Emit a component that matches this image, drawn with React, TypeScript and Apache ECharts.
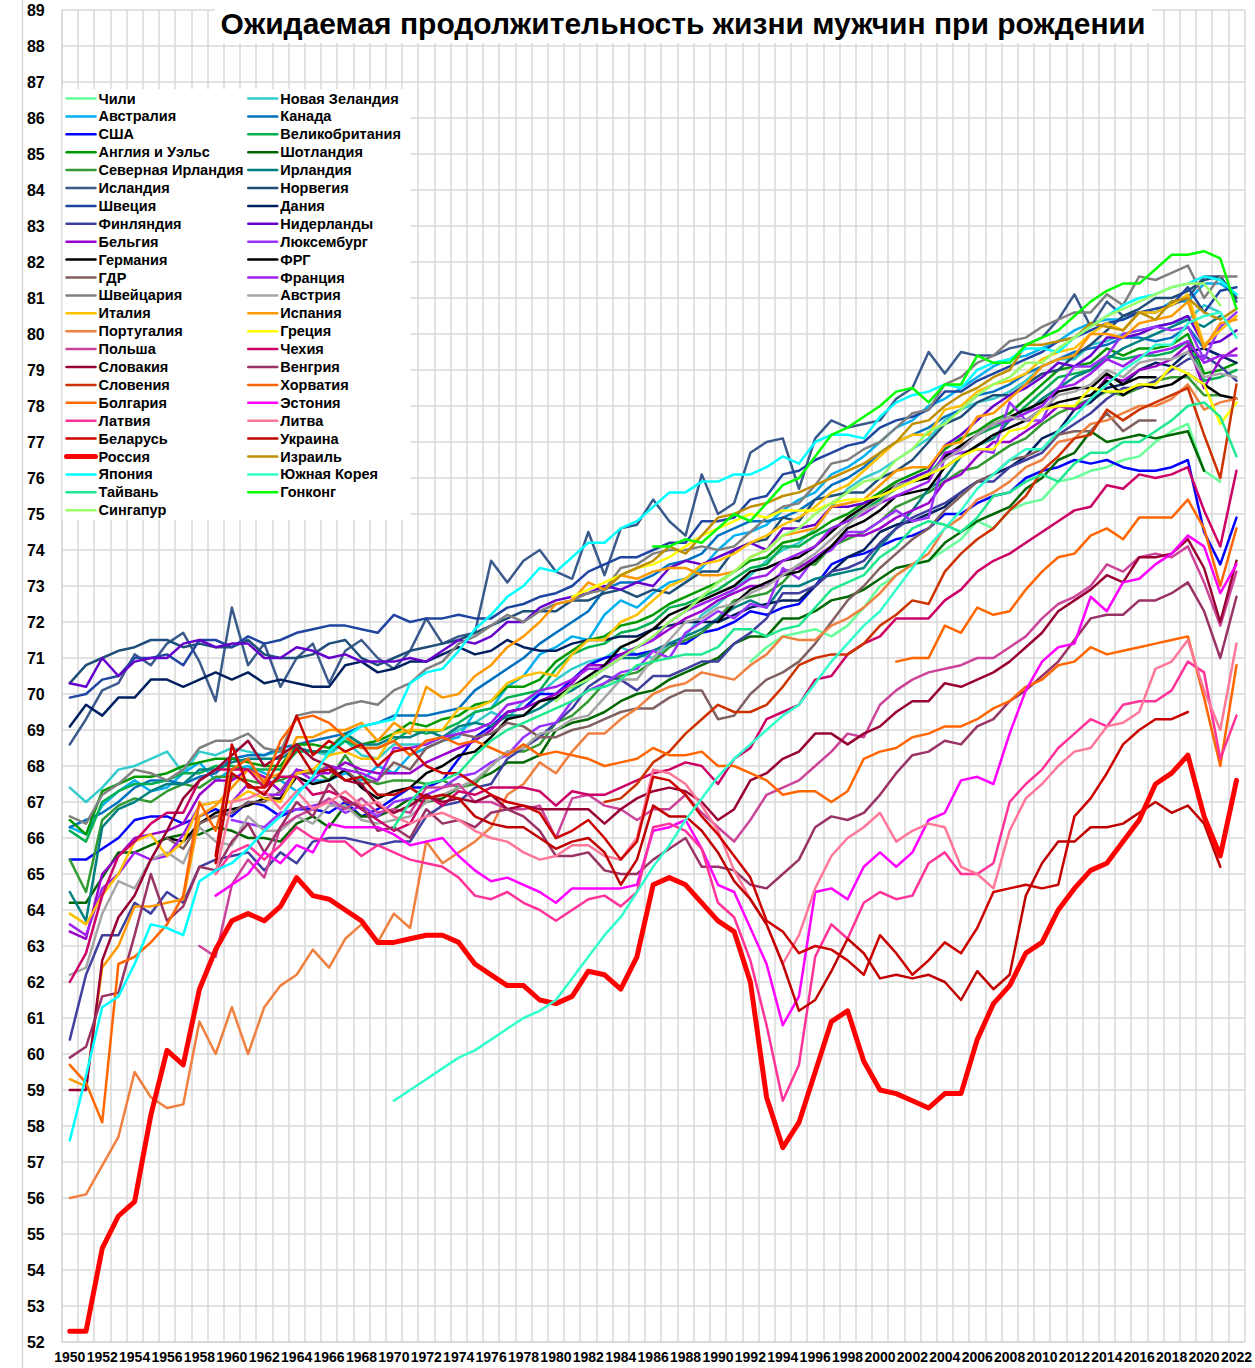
import React, { useEffect, useRef } from 'react';
import * as echarts from 'echarts';

const YEARS = ['1950','1951','1952','1953','1954','1955','1956','1957','1958','1959','1960','1961','1962','1963','1964','1965','1966','1967','1968','1969','1970','1971','1972','1973','1974','1975','1976','1977','1978','1979','1980','1981','1982','1983','1984','1985','1986','1987','1988','1989','1990','1991','1992','1993','1994','1995','1996','1997','1998','1999','2000','2001','2002','2003','2004','2005','2006','2007','2008','2009','2010','2011','2012','2013','2014','2015','2016','2017','2018','2019','2020','2021','2022'];

const Y_MIN = 52;
const Y_MAX = 89;
const TITLE = 'Ожидаемая продолжительность жизни мужчин при рождении';

// values start at the given year
const chile = [70.9,71.3,71.6,71.7,71.8,71.6,71.9,72.4, 73.0,73.3,73.6,73.7,74.0,74.3,74.8,74.6,75.1,75.3, 75.4,75.9,76.0,76.2,76.3,76.5,76.6,77.0,77.3,77.5, 76.2,75.9];
const newZealand = [67.4,67.0,67.4,67.9,68.0,68.2,68.4,67.8,68.4,68.3, 68.5,68.4,68.3,68.4,68.5,68.4,68.3,68.7,68.3,68.2, 68.6,68.6,68.6,68.8,69.0,69.2,69.5,69.3,69.8,70.0, 70.4,70.7,70.9,71.0,71.3,71.1,71.0,71.4,71.6,72.2, 72.5,72.9,73.3,73.7,74.0,74.2,74.6,75.2,75.7,76.0, 76.2,76.5,76.8,77.1,77.6,77.9,78.1,78.2,78.4,78.7, 79.1,79.3,79.3,79.7,79.8,80.0,80.1,80.2,80.3,80.4, 80.8,80.6];
const australia = [66.3,66.1,66.9,67.3,67.6,67.3,67.4,67.8,68.1,67.6, 67.9,68.0,67.8,67.6,67.3,67.6,67.6,67.8,67.6,68.0, 67.8,68.3,68.5,68.7,68.8,69.5,69.6,70.2,70.5,71.1, 71.3,71.6,71.5,72.2,72.6,72.4,72.8,73.1,73.2,73.5, 74.0,74.4,74.5,74.7,75.1,75.4,75.6,76.1,76.3,76.6, 77.0,77.4,77.6,78.0,78.2,78.5,78.8,79.1,79.3,79.4, 79.6,79.8,80.1,80.3,80.4,80.4,80.6,80.6,80.9,80.9, 81.4,81.4,81.1];
const canada = [66.3,66.5,66.7,67.0,67.4,67.6,67.6,67.5,67.7,67.8, 68.2,68.3,68.3,68.5,68.6,68.7,68.8,68.9,69.1,69.2, 69.4,69.4,69.4,69.5,69.6,70.1,70.4,70.7,71.0,71.4, 71.7,72.0,72.3,72.9,73.1,73.1,73.3,73.6,73.7,73.9, 74.4,74.6,74.8,74.8,74.9,75.1,75.4,75.8,76.0,76.3, 76.7,77.0,77.2,77.4,77.7,77.9,78.3,78.4,78.6,78.9, 79.1,79.3,79.5,79.6,79.7,79.9,79.9,79.8,79.9,80.2, 79.6,79.4];
const usa = [65.4,65.4,65.7,66.0,66.5,66.6,66.6,66.4,66.6,66.8, 66.6,67.0,66.9,66.6,66.8,66.8,66.7,67.0,66.6,66.8, 67.1,67.4,67.4,67.6,68.2,68.8,69.1,69.5,69.6,70.0, 70.0,70.4,70.8,71.0,71.1,71.1,71.2,71.4,71.4,71.7, 71.8,72.0,72.3,72.2,72.4,72.5,73.0,73.6,73.8,73.9, 74.1,74.3,74.4,74.6,75.0,75.0,75.3,75.5,75.6,76.0, 76.2,76.3,76.5,76.4,76.5,76.3,76.2,76.2,76.3,76.5, 74.5,73.6,74.9];
const uk = [66.2,65.9,67.0,67.3,67.5,67.5,67.6,67.8,67.8,68.0, 68.0,67.9,67.9,67.9,68.4,68.4,68.4,68.7,68.5,68.5, 68.7,69.0,68.9,69.0,69.2,69.5,69.6,69.9,70.0,70.1, 70.7,71.1,71.3,71.4,71.7,71.8,72.0,72.4,72.5,72.7, 72.9,73.2,73.5,73.6,74.1,74.1,74.4,74.6,74.8,75.1, 75.4,75.7,75.9,76.1,76.6,76.9,77.2,77.4,77.6,78.0, 78.4,78.8,78.9,79.0,79.4,79.3,79.4,79.4,79.5,79.8, 78.7,78.8,79.0];
const englandWales = [66.5,66.1,67.3,67.5,67.7,67.7,67.8,68.0,68.1,68.2, 68.2,68.1,68.0,68.0,68.6,68.6,68.5,68.9,68.6,68.7, 68.9,69.2,69.1,69.3,69.4,69.7,69.8,70.2,70.2,70.4, 70.9,71.2,71.5,71.6,71.9,72.0,72.2,72.5,72.7,72.9, 73.1,73.4,73.7,73.8,74.2,74.3,74.5,74.8,75.0,75.3, 75.6,75.9,76.1,76.3,76.8,77.1,77.3,77.6,77.8,78.2, 78.6,79.0,79.1,79.2,79.6,79.4,79.6,79.6,79.7,80.0, 78.9,79.0,79.2];
const scotland = [64.2,64.2,64.9,65.6,65.6,65.8,66.0,66.1,66.1,66.3, 66.2,66.0,66.0,65.9,66.4,66.6,66.3,66.9,66.6,66.6, 66.8,67.1,67.0,67.1,67.4,67.6,67.8,68.1,68.1,68.3, 69.0,69.2,69.3,69.5,69.8,70.0,70.1,70.4,70.6,70.8, 71.0,71.4,71.6,71.6,72.1,72.1,72.3,72.6,72.7,72.9, 73.2,73.5,73.6,73.7,74.2,74.5,74.8,75.0,75.2,75.7, 76.0,76.5,76.7,77.3,77.0,77.1,77.2,77.1,77.2,77.3, 76.2];
const northernIreland = [65.4,64.5,66.5,66.9,67.1,67.0,67.3,67.5,67.4,67.7, 67.7,67.6,67.5,67.6,67.8,67.9,67.6,68.3,67.7,67.5, 67.6,67.6,67.5,67.6,67.4,67.5,68.0,68.4,68.4,68.6, 69.2,69.4,69.8,70.3,70.5,70.6,70.9,71.3,71.5,71.7, 72.1,72.6,72.7,72.8,73.1,73.6,73.6,74.1,74.3,74.5, 74.8,75.2,75.4,75.6,75.9,76.2,76.3,76.6,76.9,77.1, 77.5,77.8,78.0,78.2,78.4,78.3,78.5,78.7,78.8,78.8, 78.3,78.3];
const ireland = [64.5,63.7,66.3,66.8,67.0,67.3,67.5,67.5,67.9,67.9, 68.1,68.2,68.2,68.2,68.5,68.4,68.4,68.9,68.6,68.6, 68.8,68.8,69.0,68.8,69.1,69.2,69.1,69.4,69.4,69.6, 69.9,70.1,70.4,70.7,71.0,71.0,71.2,71.4,71.6,71.8, 72.1,72.4,72.6,72.4,73.0,73.0,73.2,73.3,73.4,73.5, 74.1,74.6,75.1,75.7,76.0,76.6,76.9,77.1,77.6,77.8, 78.2,78.5,78.8,79.0,79.3,79.6,79.8,80.0,80.2,80.4, 80.2,80.5];
const iceland = [68.6,69.3,70.1,70.3,71.1,70.8,71.4,71.7,70.9,69.8, 72.4,70.8,71.4,70.2,71.0,71.4,70.3,71.2,71.5,71.0, 70.7,71.2,72.1,71.4,71.6,71.7,73.7,73.1,73.7,74.0, 73.4,73.2,74.5,73.3,74.6,74.7,75.4,74.8,74.4,76.1, 75.0,75.3,76.7,77.0,77.1,75.7,77.1,77.6,77.4,77.5, 77.6,78.2,78.5,79.5,78.9,79.5,79.4,79.4,79.6,79.7, 79.9,80.4,81.1,80.2,80.9,80.5,80.6,80.6,80.8,81.0, 81.6,81.6,80.9];
const norway = [70.3,70.8,71.0,71.2,71.3,71.5,71.5,71.3,71.4,71.3, 71.3,71.5,71.1,71.0,71.0,71.1,71.4,71.5,71.0,70.8, 71.0,71.2,71.3,71.4,71.5,71.7,71.9,72.1,72.3,72.3, 72.3,72.6,72.6,72.8,72.9,72.7,72.9,72.8,73.1,73.4, 73.4,74.0,74.2,74.3,74.9,74.8,75.4,75.5,75.6,75.6, 76.0,76.2,76.5,77.0,77.5,77.7,78.1,78.3,78.3,78.6, 78.9,79.0,79.4,79.7,80.1,80.5,80.7,81.0,81.0,81.2, 81.5,81.6,81.0];
const sweden = [69.9,70.0,70.4,70.5,71.0,71.0,71.1,70.8,71.5,71.5, 71.3,71.6,71.4,71.5,71.7,71.8,71.9,71.9,71.8,71.7, 72.2,72.0,72.1,72.1,72.2,72.1,72.1,72.4,72.5,72.7, 72.8,73.0,73.4,73.6,73.8,73.8,74.0,74.2,74.2,74.8, 74.8,74.9,75.4,75.5,76.1,76.2,76.5,76.7,76.9,77.0, 77.4,77.6,77.7,77.9,78.4,78.4,78.7,78.9,79.1,79.3, 79.5,79.8,79.9,80.1,80.3,80.4,80.6,80.7,80.8,81.3, 80.6,81.2,81.3];
const denmark = [69.1,69.7,69.4,69.9,69.9,70.4,70.4,70.2,70.4,70.6, 70.4,70.6,70.3,70.4,70.3,70.2,70.2,70.8,70.9,70.6, 70.7,70.9,70.9,71.1,71.3,71.1,71.2,71.5,71.3,71.2, 71.2,71.4,71.5,71.5,71.6,71.6,71.8,71.9,72.0,72.0, 72.0,72.2,72.4,72.5,72.6,72.6,73.0,73.4,73.8,74.0, 74.5,74.7,74.8,75.0,75.2,75.6,75.9,76.1,76.3,76.6, 77.1,77.3,77.9,78.1,78.5,78.6,79.0,79.2,79.1,79.5, 79.6,79.4,79.2];
const finland = [60.4,62.2,63.3,63.3,64.2,63.9,64.5,64.2,65.2,65.4, 65.5,65.6,65.1,65.6,65.3,65.9,66.0,66.0,65.9,65.8, 65.9,65.9,66.6,66.9,67.0,67.4,67.5,68.2,68.5,68.8, 69.2,69.6,70.2,70.5,70.4,70.1,70.5,70.5,70.7,70.9, 70.9,71.4,71.7,72.1,72.8,72.8,73.0,73.4,73.5,73.7, 74.2,74.6,74.9,75.1,75.3,75.6,75.9,75.9,76.3,76.5, 76.7,77.2,77.5,77.8,78.2,78.5,78.5,78.7,79.0,79.3, 79.4,79.1,78.7];
const netherlands = [70.3,70.2,71.0,70.5,70.9,71.0,71.0,71.4,71.5,71.3, 71.4,71.4,71.0,71.0,71.3,71.2,71.0,71.1,70.9,70.9, 70.9,71.0,70.9,71.2,71.5,71.4,71.6,72.0,72.0,72.4, 72.6,72.7,72.8,73.0,72.9,73.1,73.0,73.5,73.7,73.6, 73.8,74.0,74.2,74.0,74.6,74.6,74.7,75.2,75.2,75.3, 75.5,75.8,76.0,76.2,76.9,77.2,77.6,78.0,78.3,78.5, 78.8,79.2,79.1,79.4,79.9,79.9,80.0,80.2,80.3,80.5, 79.7,79.8,80.1];
const belgium = [63.4,63.2,65.0,65.5,66.0,66.1,66.2,66.4,67.2,67.6, 67.6,67.9,67.7,67.3,67.9,67.8,67.8,68.1,67.9,67.8, 67.8,67.8,68.1,68.3,68.5,68.7,69.0,69.5,69.6,69.8, 70.0,70.3,70.8,70.8,71.1,71.3,71.5,71.8,72.1,72.3, 72.6,72.8,73.0,73.0,73.4,73.5,73.8,74.1,74.4,74.4, 74.6,74.9,75.1,75.3,75.9,76.1,76.6,77.0,77.0,77.3, 77.6,78.0,77.9,78.2,78.8,78.7,79.0,79.1,79.3,79.7, 78.5,79.3,79.6];
const luxembourg = [66.5,66.4,66.3,66.7,66.8,66.9,67.0,66.7,66.9,66.6, 67.0,67.1,67.2,67.4,67.7,67.8,68.1,68.3,68.8,69.1, 69.2,69.8,70.1,70.3,70.6,70.7,71.2,71.0,71.7,72.0, 72.3,72.1,72.5,72.4,73.5,73.2,73.8,74.0,74.5,74.5, 74.8,75.1,74.8,74.9,76.6,76.7,76.8,76.7,78.1,77.6, 77.6,78.5,79.1,79.1,79.4,80.0,80.1,80.2,80.1,80.2, 79.3,80.2,80.6];
const germany = [72.0,72.5,72.9,73.1,73.3,73.4,73.7,74.1,74.6,74.8, 75.1,75.5,75.6,75.7,76.3,76.6,76.9,77.2,77.4,77.6, 77.9,78.1,78.2,78.3,78.7,78.3,78.6,78.5,78.6,78.9, 78.6,78.3,78.2];
const westGermany = [66.0,65.9,66.4,66.7, 66.8,66.9,67.1,67.1,67.7,67.5,67.6,67.9,67.4,67.1, 67.3,67.4,67.8,68.0,68.3,68.4,68.8,69.3,69.4,69.8, 69.9,70.2,70.5,70.8,71.3,71.5,71.8,72.2,72.4,72.6, 72.8,73.0,73.4,73.5,73.7,73.8,74.1,74.5,74.9,75.2, 75.5,75.8,75.9,76.0,76.6,76.9,77.2,77.5,77.7,77.9, 78.1,78.4,78.5,78.5,78.9,78.6,78.8,78.8];
const eastGermany = [66.0,65.7,66.4,66.6, 66.7,67.0,67.0,67.3,67.8,67.8,68.0,67.9,67.5,67.6, 68.1,67.9,68.5,68.7,68.9,68.8,68.9,69.2,69.1,68.8, 68.8,69.0,69.1,69.3,69.5,69.6,69.6,69.9,70.1,70.1, 69.3,69.4,70.0,70.4,70.6,70.9,71.4,72.0,72.6,73.0, 73.5,73.9,74.3,74.6,75.1,75.5,75.9,76.1,76.5,76.6, 76.8,77.2,77.3,77.3,77.8,77.3,77.6,77.6];
const france = [63.6,63.3,64.6,65.0,65.6,65.4,65.5,66.1,66.9,67.0, 67.0,67.5,67.2,67.2,67.9,67.6,68.0,67.9,67.8,67.6, 68.5,68.5,68.6,68.8,68.9,69.0,69.2,69.7,69.8,70.1, 70.2,70.4,70.7,70.7,71.0,71.3,71.5,72.0,72.3,72.5, 72.7,72.9,73.2,73.3,73.7,73.9,74.1,74.6,74.8,75.0, 75.3,75.5,75.7,75.9,76.7,76.8,77.2,77.5,77.6,77.8, 78.0,78.5,78.6,78.9,79.3,79.1,79.4,79.5,79.6,79.8, 79.2,79.4,79.4];
const switzerland = [66.6,66.4,67.2,67.5,67.9,67.8,67.6,67.9,68.5,68.7, 68.7,68.9,68.5,68.4,69.4,69.5,69.5,69.7,69.8,69.7, 70.1,70.3,70.7,70.9,71.4,71.6,71.9,72.2,72.0,72.3, 72.5,72.6,72.8,72.9,73.5,73.6,73.9,74.0,74.0,74.1, 74.0,74.1,74.5,74.9,75.2,75.3,75.8,76.4,76.5,76.8, 77.0,77.4,77.8,77.9,78.6,78.8,79.2,79.4,79.8,79.9, 80.2,80.4,80.6,80.6,81.1,80.8,81.6,81.5,81.7,81.9, 81.0,81.6,81.6];
const austria = [62.2,62.4,63.9,64.8,64.6,65.4,65.6,65.3,66.3,65.9, 65.8,66.6,66.2,66.2,66.6,66.4,66.9,66.9,66.5,66.4, 66.5,66.6,67.0,67.2,67.4,67.6,68.0,68.4,68.5,68.9, 69.0,69.3,69.4,69.9,70.4,70.4,71.0,71.5,72.0,72.1, 72.4,72.5,72.8,73.0,73.3,73.6,73.9,74.3,74.7,75.1, 75.3,75.8,75.9,76.1,76.5,76.8,77.2,77.5,77.7,77.6, 77.9,78.3,78.4,78.6,79.0,78.8,79.2,79.3,79.3,79.5, 78.8,78.9,78.8];
const italy = [63.9,63.6,64.4,65.0,65.9,66.1,65.5,65.9,66.9,67.0, 67.0,67.3,67.1,67.0,67.8,67.9,68.3,68.4,68.2,68.2, 68.9,69.0,69.0,69.0,69.6,69.6,69.8,70.3,70.5,70.6, 70.5,71.1,71.5,71.5,72.0,72.2,72.6,73.0,73.2,73.6, 73.7,73.9,74.2,74.4,74.7,74.9,75.2,75.6,75.8,76.2, 76.6,77.0,77.2,77.2,77.9,78.0,78.4,78.6,78.7,78.9, 79.3,79.5,79.6,80.0,80.3,80.1,80.6,80.6,80.8,81.1, 79.7,80.1,80.5];
const spain = [59.3,59.1,62.4,63.0,64.1,64.1,64.2,64.3,66.6,66.9, 67.4,67.9,67.6,67.8,68.8,68.8,69.0,69.0,69.2,68.7, 69.2,68.9,70.2,69.9,70.0,70.5,70.8,71.3,71.6,72.0, 72.5,72.6,73.1,72.9,73.3,73.2,73.4,73.5,73.5,73.3, 73.3,73.4,73.8,74.0,74.4,74.5,74.6,75.2,75.3,75.4, 75.8,76.2,76.3,76.3,76.9,77.0,77.7,77.8,78.2,78.6, 79.1,79.3,79.4,80.0,80.0,79.9,80.3,80.4,80.5,80.9, 79.6,80.3,80.4];
const portugal = [56.0,56.1,56.9,57.7,59.5,58.8,58.5,58.6,60.9,60.0, 61.3,60.0,61.3,61.9,62.2,62.9,62.4,63.2,63.6,63.1, 63.9,63.5,65.9,65.3,65.6,65.9,66.3,67.2,67.5,68.1, 67.8,68.4,68.9,68.9,69.3,69.6,70.0,70.2,70.3,70.6, 70.5,70.4,70.8,71.1,71.6,71.5,71.5,71.9,72.1,72.4, 72.8,73.3,73.6,73.9,74.6,74.9,75.4,75.6,75.9,76.3, 76.5,77.0,77.1,77.5,77.6,77.8,78.0,78.0,78.2,78.6, 77.9,78.1,78.2];
const greece = [72.7,72.9,73.1,73.3,73.5,73.6,73.8,74.1,74.4, 74.6,74.8,75.0,74.9,75.1,75.1,75.1,75.3,75.4,75.4, 75.5,75.7,75.9,76.1,76.3,76.6,76.8,76.8,77.3,77.4, 77.9,78.0,78.0,78.5,78.4,78.4,78.6,78.6,79.1,78.9, 78.6,77.5,78.1];
const poland = [63.0,62.7, 64.7,65.4,64.9,66.3,66.6,66.8,67.1,66.8,67.1,66.7, 66.8,66.7,67.4,67.4,67.5,67.0,67.0,66.8,66.8,66.9, 66.0,67.1,67.2,66.9,66.8,66.5,66.8,66.8,67.2,66.7, 66.3,65.9,66.5,67.2,67.4,67.6,68.0,68.4,68.9,68.8, 69.7,70.1,70.4,70.6,70.7,70.8,71.0,71.0,71.3,71.6, 72.1,72.5,72.7,73.0,73.6,73.4,73.8,73.9,73.8,74.1, 73.1,71.9,73.4];
const czechia = [62.0,62.8,64.4,65.5,65.9,66.4,66.7,66.7,67.6,67.9, 67.9,67.9,67.4,67.7,67.7,67.2,67.3,67.1,66.8,66.5, 66.2,66.4,67.2,66.9,67.3,67.2,67.4,67.4,67.4,67.3, 66.9,67.3,67.2,67.2,67.4,67.6,67.8,67.9,68.1,68.0, 67.5,68.2,68.5,69.3,69.5,69.7,70.4,70.5,71.1,71.4, 71.6,72.1,72.1,72.1,72.6,72.9,73.4,73.7,73.9,74.2, 74.5,74.8,75.1,75.2,75.8,75.7,76.1,76.0,76.1,76.3, 75.1,74.1,76.2];
const slovakia = [59.0,59.0,62.6,63.8,64.4,65.4,66.2,67.1,67.6,67.9, 68.3,68.7,68.0,68.3,68.6,68.2,68.0,67.6,67.5,66.9, 66.7,66.9,67.2,67.0,67.1,67.0,67.2,66.8,66.9,66.8, 66.8,66.8,66.8,66.4,66.8,67.1,67.3,67.4,67.3,67.0, 66.5,66.8,67.6,67.8,68.2,68.4,68.9,68.9,68.6,68.9, 69.1,69.5,69.8,69.8,70.3,70.2,70.4,70.6,70.9,71.3, 71.7,72.3,72.6,72.9,73.3,73.1,73.8,73.8,73.9,74.3, 73.5,72.0,73.7];
const hungary = [59.9,60.2,61.6,61.7,63.3,65.0,63.7,64.1,65.2,65.1, 65.9,66.4,65.6,66.3,67.0,66.6,67.5,67.0,66.9,66.2, 66.3,66.0,66.8,66.4,66.5,66.3,66.7,66.8,66.6,66.2, 65.5,65.5,65.6,65.1,65.0,65.0,65.4,65.7,66.0,65.2, 65.2,65.1,64.7,64.6,65.0,65.4,66.3,66.6,66.5,66.7, 67.2,67.8,68.3,68.4,68.7,68.6,69.1,69.3,69.8,70.1, 70.5,70.9,71.5,72.1,72.2,72.2,72.6,72.6,72.8,73.1, 72.3,71.0,72.7];
const slovenia = [67.0,67.1,67.5,68.1,68.4,68.9,69.3, 69.7,69.5,69.5,69.7,70.2,70.8,71.0,71.1,71.1,71.4, 71.9,72.2,72.6,72.5,73.4,73.9,74.3,74.6,75.1,75.5, 76.2,76.6,77.1,77.2,77.9,77.6,77.9,78.1,78.3,78.5, 77.2,76.0,78.6];
const croatia = [70.9,71.0,71.0,71.9,71.7,72.4,72.2,72.3,72.9, 73.4,73.8,73.9,74.4,74.6,74.3,74.9,74.9,74.9,75.4, 74.6,73.0,74.6];
const bulgaria = [59.7,59.2,58.1,62.5,62.7,63.1,63.6,64.4,67.0,66.2, 67.9,68.2,67.5,68.7,69.3,69.4,69.2,68.8,68.5,68.5, 68.7,68.3,68.7,68.8,68.6,68.7,68.5,68.3,68.6,68.3, 68.4,68.3,68.2,68.0,68.1,68.2,68.5,68.3,68.3,68.4, 68.0,68.0,67.8,67.6,67.2,67.3,67.3,67.0,67.3,68.2, 68.4,68.5,68.8,68.9,69.1,69.1,69.3,69.6,69.8,70.2, 70.4,70.8,70.9,71.3,71.1,71.2,71.3,71.4,71.5,71.6, 69.9,68.0,70.8];
const estonia = [64.4, 64.7,65.0,65.6,65.3,65.8,65.6,66.4,66.3,66.3,66.3, 66.1,65.8,65.9,66.0,65.5,65.1,64.8,64.9,64.7,64.5, 64.2,64.6,64.6,64.6,64.6,64.7,66.2,66.3,66.5,65.7, 64.7,64.5,63.5,62.5,60.8,61.6,64.5,64.6,64.3,65.2, 65.6,65.2,65.6,66.5,66.7,67.6,67.7,67.5,68.9,70.1, 70.9,71.3,71.4,72.7,72.3,73.1,73.2,73.6,73.9,74.4, 74.1,72.8,73.6];
const latvia = [65.0, 65.6,65.8,65.4,65.8,66.3,66.0,65.9,65.9,65.5,65.8, 65.6,65.4,65.3,65.2,64.9,64.4,64.3,64.5,64.2,64.0, 63.7,64.0,64.3,64.4,64.1,64.5,66.3,66.4,66.2,65.7, 64.2,63.8,62.6,60.8,58.7,59.7,62.7,63.6,63.2,64.2, 64.5,64.3,64.4,65.3,65.6,65.0,65.0,65.3,67.0,67.5, 67.9,68.5,68.9,69.3,69.1,69.7,69.8,69.8,70.1,70.9, 70.6,68.2,69.4];
const lithuania = [65.0, 67.0,67.1,67.3,66.8,67.3,66.8,67.0,67.3,66.9,67.0, 66.6,66.4,66.6,66.7,66.5,66.2,66.0,65.9,65.6,65.4, 65.5,65.8,65.8,65.5,65.4,66.0,67.9,67.8,67.5,66.9, 66.2,65.1,64.3,63.6,62.5,63.3,64.6,65.5,66.0,66.3, 66.7,65.9,66.2,66.4,66.3,65.2,65.0,64.6,66.2,67.1, 67.5,68.0,68.4,68.5,69.1,69.2,69.5,70.7,70.9,71.5, 70.1,69.0,71.4];
const belarus = [65.5, 68.6,67.4,67.4,68.2,69.4,68.3,68.7,68.4,68.6,68.0, 68.4,68.5,68.0,67.8,67.8,67.5,67.2,67.0,66.9,66.7, 66.0,66.2,66.5,66.0,65.4,65.9,67.7,67.6,67.2,66.6, 66.1,65.5,64.9,63.7,63.4,62.8,63.0,62.9,62.6,62.2, 63.3,62.8,62.2,62.6,63.1,62.8,63.5,64.5,64.6,64.7, 64.6,64.7,66.6,67.1,67.8,68.6,69.0,69.3,69.3,69.5];
const ukraine = [65.3, 67.8,67.5,67.2,67.8,68.5,67.8,67.9,67.6,67.7,67.2, 67.2,67.4,67.1,67.2,67.1,66.6,66.4,66.3,66.3,66.0, 65.7,65.9,66.0,65.6,64.7,65.4,66.9,66.6,66.6,66.2, 65.6,64.8,64.3,63.6,62.5,61.2,61.5,62.3,63.2,62.8, 62.1,62.2,62.1,62.2,62.0,61.5,62.3,61.8,62.2,64.4, 65.3,65.9,65.9,66.3,66.3,66.4,66.7,67.0,66.7,66.9, 66.4,65.2];
const russia = [52.3,52.3,54.6,55.5,55.9,58.3,60.1,59.7,61.8,62.9, 63.7,63.9,63.7,64.1,64.9,64.4,64.3,64.0,63.7,63.1, 63.1,63.2,63.3,63.3,63.1,62.5,62.2,61.9,61.9,61.5, 61.4,61.6,62.3,62.2,61.8,62.7,64.7,64.9,64.7,64.2, 63.7,63.4,62.0,58.8,57.4,58.1,59.5,60.9,61.2,59.8, 59.0,58.9,58.7,58.5,58.9,58.9,60.4,61.4,61.9,62.8, 63.1,64.0,64.6,65.1,65.3,65.9,66.5,67.5,67.8,68.3, 66.6,65.5,67.6];
const israel = [72.9,73.3,73.5,73.7,74.1,73.9,74.4, 74.9,75.0,75.2,75.3,75.5,75.6,75.8,76.0,76.2,76.4, 76.7,77.0,77.5,77.6,78.0,78.3,78.5,78.8,79.0,79.7, 79.7,79.8,79.9,80.3,80.2,80.1,80.6,80.4,80.9,81.0, 80.6,80.4,80.7];
const japan = [57.6,59.4,61.3,61.6,62.5,63.6,63.5,63.3,64.8,65.1, 65.3,65.7,66.2,66.6,67.2,67.7,68.4,68.8,69.1,69.2, 69.3,70.3,70.6,70.7,71.2,71.8,72.2,72.7,73.0,73.5, 73.4,73.8,74.2,74.2,74.6,74.8,75.2,75.6,75.6,75.9, 75.9,76.1,76.1,76.3,76.6,76.4,77.0,77.2,77.2,77.1, 77.7,78.1,78.3,78.4,78.6,78.5,79.0,79.2,79.3,79.6, 79.6,79.5,79.9,80.2,80.5,80.8,81.0,81.1,81.3,81.4, 81.6,81.5,81.1];
const southKorea = [58.7,59.0,59.3,59.6,59.9,60.1,60.4,60.7,61.0,61.2, 61.5,62.1,62.7,63.3,63.8,64.5,65.2,65.8,66.5,67.1, 67.7,68.2,68.6,69.0,69.4,69.7,70.3,70.9,71.4,71.9, 72.3,72.9,73.5,74.1,74.6,75.1,75.7,76.1,76.5,76.8, 76.8,77.3,77.7,78.2,78.6,79.0,79.3,79.7,79.7,80.3, 80.5,80.6,79.9];
const taiwan = [66.3,67.0,67.5,67.6,67.8,68.3,68.7,69.0,69.2,69.4, 69.6,69.8,70.1,70.2,70.4,70.8,70.9,71.0,71.1,71.1, 71.3,71.8,71.8,71.6,71.8,71.9,72.4,72.9,73.1,73.3, 73.8,74.1,74.6,74.8,74.7,74.5,74.9,75.5,75.6,75.9, 76.1,75.9,76.4,76.7,76.7,77.0,77.0,77.3,77.6,78.0, 78.1,77.7,76.6];
const hongKong = [74.1,74.1,74.3,74.2, 74.6,75.0,74.8,75.3,75.8,76.0,76.6,77.2,77.4,77.7, 78.0,78.4,78.5,78.1,78.6,78.6,79.4,79.2,79.2,79.7, 79.9,80.1,80.5,80.9,81.2,81.4,81.4,81.8,82.2,82.2, 82.3,82.1,80.7];
const singapore = [69.8,70.2,70.4,70.7,71.0,71.3,71.6,72.0,72.3,72.7, 73.1,73.4,73.8,74.0,74.4,74.6,75.0,75.3,75.6,75.9, 76.0,76.5,76.8,77.3,77.5,77.9,78.3,78.6,78.8,79.2, 79.2,79.6,79.9,80.2,80.5,80.7,80.9,81.1,81.3,81.4, 81.4,80.8];

type Def = { name: string; color: string; start: number; values: number[]; width?: number };

const DEFS: Def[] = [
  { name: 'Чили', color: '#66FF99', start: 1992, values: chile },
  { name: 'Новая Зеландия', color: '#33CCCC', start: 1950, values: newZealand },
  { name: 'Австралия', color: '#00B0F0', start: 1950, values: australia },
  { name: 'Канада', color: '#0070C0', start: 1950, values: canada },
  { name: 'США', color: '#0000FF', start: 1950, values: usa },
  { name: 'Великобритания', color: '#00B050', start: 1950, values: uk },
  { name: 'Англия и Уэльс', color: '#009900', start: 1950, values: englandWales },
  { name: 'Шотландия', color: '#006600', start: 1950, values: scotland },
  { name: 'Северная Ирландия', color: '#339933', start: 1950, values: northernIreland },
  { name: 'Ирландия', color: '#008080', start: 1950, values: ireland },
  { name: 'Исландия', color: '#3A5A8C', start: 1950, values: iceland },
  { name: 'Норвегия', color: '#1F4E79', start: 1950, values: norway },
  { name: 'Швеция', color: '#1F45A0', start: 1950, values: sweden },
  { name: 'Дания', color: '#002060', start: 1950, values: denmark },
  { name: 'Финляндия', color: '#3F3FA0', start: 1950, values: finland },
  { name: 'Нидерланды', color: '#6600CC', start: 1950, values: netherlands },
  { name: 'Бельгия', color: '#9900CC', start: 1950, values: belgium },
  { name: 'Люксембург', color: '#9933FF', start: 1960, values: luxembourg },
  { name: 'Германия', color: '#000000', start: 1990, values: germany },
  { name: 'ФРГ', color: '#000000', start: 1956, values: westGermany },
  { name: 'ГДР', color: '#806060', start: 1956, values: eastGermany },
  { name: 'Франция', color: '#A020F0', start: 1950, values: france },
  { name: 'Швейцария', color: '#808080', start: 1950, values: switzerland },
  { name: 'Австрия', color: '#A6A6A6', start: 1950, values: austria },
  { name: 'Италия', color: '#FFC000', start: 1950, values: italy },
  { name: 'Испания', color: '#FF9900', start: 1950, values: spain },
  { name: 'Португалия', color: '#F08040', start: 1950, values: portugal },
  { name: 'Греция', color: '#FFFF00', start: 1981, values: greece },
  { name: 'Польша', color: '#CC4499', start: 1958, values: poland },
  { name: 'Чехия', color: '#CC0066', start: 1950, values: czechia },
  { name: 'Словакия', color: '#990033', start: 1950, values: slovakia },
  { name: 'Венгрия', color: '#993366', start: 1950, values: hungary },
  { name: 'Словения', color: '#CC3300', start: 1983, values: slovenia },
  { name: 'Хорватия', color: '#FF6600', start: 2001, values: croatia },
  { name: 'Болгария', color: '#FF6600', start: 1950, values: bulgaria },
  { name: 'Эстония', color: '#FF00FF', start: 1959, values: estonia },
  { name: 'Латвия', color: '#FF3399', start: 1959, values: latvia },
  { name: 'Литва', color: '#FF7799', start: 1959, values: lithuania },
  { name: 'Беларусь', color: '#CC0000', start: 1959, values: belarus },
  { name: 'Украина', color: '#C00000', start: 1959, values: ukraine },
  { name: 'Россия', color: '#FF0000', start: 1950, values: russia, width: 5 },
  { name: 'Израиль', color: '#BF8F00', start: 1983, values: israel },
  { name: 'Япония', color: '#00FFFF', start: 1950, values: japan },
  { name: 'Южная Корея', color: '#33FFCC', start: 1970, values: southKorea },
  { name: 'Тайвань', color: '#20E890', start: 1970, values: taiwan },
  { name: 'Гонконг', color: '#00FF00', start: 1986, values: hongKong },
  { name: 'Сингапур', color: '#99FF66', start: 1980, values: singapore },
];

const FONT = "'Liberation Sans', Arial, Helvetica, sans-serif";
const NARROW = "'Liberation Sans Narrow', 'Arial Narrow', 'Liberation Sans', Arial, sans-serif";
const GRID = '#D9D9D9';

function toRow(d: Def): (number | null)[] {
  const row: (number | null)[] = YEARS.map(() => null);
  const off = d.start - Number(YEARS[0]);
  d.values.forEach((v, i) => {
    if (off + i < row.length) row[off + i] = v;
  });
  return row;
}

export default function App() {
  const ref = useRef<HTMLDivElement>(null);
  useEffect(() => {
    document.body.style.margin = '0';
    if (!ref.current) return;
    const chart = echarts.init(ref.current, undefined, { renderer: 'svg' });
    const legendItem = (d: Def) => ({
      name: d.name,
      itemStyle: { opacity: 0 },
      lineStyle: { width: d.width ?? 2.5, color: d.color, opacity: 1 },
    });
    const leftItems = DEFS.filter((_, i) => i % 2 === 0).map(legendItem);
    const rightItems = DEFS.filter((_, i) => i % 2 === 1).map(legendItem);
    const legendBase = {
      orient: 'vertical',
      top: 91,
      itemWidth: 29,
      itemHeight: 14,
      itemGap: 2.9,
      padding: 0,
      selectedMode: false,
      z: 5,
      itemStyle: { opacity: 0 },
      lineStyle: { width: 2.5 },
      textStyle: { fontSize: 14.5, fontWeight: 'bold', color: '#000', fontFamily: FONT, lineHeight: 14, padding: [0, 0, 0, -2] },
    };
    chart.setOption({
      animation: false,
      backgroundColor: '#fff',
      title: {
        text: TITLE,
        left: 677,
        textAlign: 'center',
        top: 3,
        padding: [2, 6, 2, 6],
        backgroundColor: '#fff',
        z: 6,
        textStyle: { fontSize: 30, fontWeight: 'bold', color: '#000', fontFamily: FONT, lineHeight: 36 },
      },
      graphic: [
        { type: 'line', z: 0, shape: { x1: 22.5, y1: 0, x2: 22.5, y2: 1368 }, style: { stroke: GRID, lineWidth: 1.5 } },
        { type: 'rect', z: 3, shape: { x: 62.5, y: 89, width: 348, height: 431 }, style: { fill: '#fff' } },
      ],
      legend: [
        { ...legendBase, left: 64, data: leftItems },
        { ...legendBase, left: 247, data: rightItems },
      ],
      grid: { left: 61.7, right: 3, top: 10, bottom: 26, containLabel: false },
      xAxis: {
        type: 'category',
        data: YEARS,
        boundaryGap: true,
        axisLine: { show: true, lineStyle: { color: GRID, width: 1.5 } },
        axisTick: { show: false },
        splitLine: { show: true, interval: 0, lineStyle: { color: GRID, width: 1.5 } },
        axisLabel: { interval: 1, margin: 8, fontSize: 14, fontWeight: 'bold', color: '#000', fontFamily: NARROW },
      },
      yAxis: {
        type: 'value',
        min: Y_MIN,
        max: Y_MAX,
        interval: 1,
        axisLine: { show: true, lineStyle: { color: GRID, width: 1.5 } },
        axisTick: { show: false },
        splitLine: { show: true, lineStyle: { color: GRID, width: 1.5 } },
        axisLabel: { margin: 17, fontSize: 16, fontWeight: 'bold', color: '#000', fontFamily: FONT },
      },
      series: DEFS.map((d) => ({
        type: 'line',
        name: d.name,
        data: toRow(d),
        symbol: 'none',
        showSymbol: false,
        connectNulls: false,
        color: d.color,
        itemStyle: { color: d.color },
        lineStyle: { color: d.color, width: d.width ?? 2.5, cap: 'round', join: 'round' },
        emphasis: { disabled: true },
        z: 2,
      })),
    });
    return () => chart.dispose();
  }, []);
  return <div ref={ref} style={{ width: 1255, height: 1368 }} />;
}
